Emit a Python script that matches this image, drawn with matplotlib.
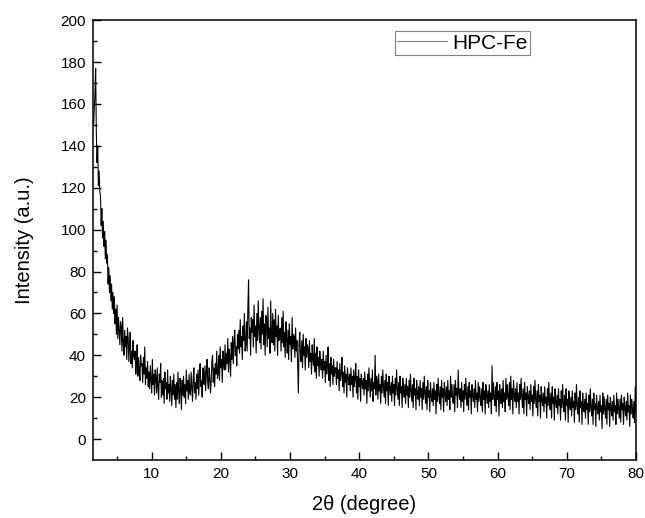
import numpy as np
import matplotlib
matplotlib.use("Agg")
import matplotlib.pyplot as plt

plt.rcParams["font.family"] = ["Liberation Sans", "DejaVu Sans"]

intensity = [
    150, 158, 165, 177, 146, 132, 140, 121, 128, 118,
    116, 102, 110, 96, 104, 92, 99, 86, 95, 84,
    88, 74, 82, 70, 78, 66, 74, 62, 70, 60,
    68, 55, 62, 50, 64, 48, 58, 52, 45, 56,
    54, 42, 58, 46, 40, 52, 44, 49, 38, 53,
    48, 37, 45, 51, 36, 42, 34, 47, 40, 38,
    42, 31, 36, 45, 30, 39, 33, 28, 40, 35,
    36, 27, 39, 31, 44, 26, 34, 29, 37, 25,
    32, 24, 35, 28, 22, 38, 26, 31, 21, 33,
    30, 22, 34, 25, 19, 31, 27, 36, 20, 28,
    21, 29, 17, 32, 24, 27, 19, 33, 22, 26,
    18, 30, 24, 16, 28, 21, 31, 19, 26, 15,
    27, 19, 32, 22, 17, 29, 24, 14, 28, 21,
    30, 20, 26, 17, 33, 23, 28, 19, 31, 22,
    21, 32, 25, 18, 29, 34, 22, 27, 19, 31,
    24, 33, 21, 30, 36, 25, 28, 20, 34, 27,
    26, 35, 23, 32, 38, 27, 24, 34, 29, 22,
    28, 37, 40, 27, 34, 25, 36, 31, 42, 29,
    31, 40, 28, 44, 34, 38, 27, 42, 36, 33,
    45, 33, 41, 36, 48, 32, 43, 39, 30, 46,
    38, 49, 36, 46, 52, 40, 44, 35, 50, 43,
    52, 41, 57, 44, 49, 38, 54, 47, 60, 42,
    45, 56, 42, 62, 76, 48, 53, 40, 58, 51,
    57, 44, 64, 49, 54, 41, 60, 47, 66, 52,
    46, 58, 43, 61, 50, 67, 45, 55, 40, 59,
    56, 44, 63, 48, 53, 41, 66, 50, 46, 60,
    45, 57, 42, 62, 49, 54, 40, 59, 47, 52,
    53, 42, 58, 46, 61, 44, 51, 39, 56, 47,
    41, 52, 38, 55, 45, 49, 37, 58, 43, 50,
    49, 39, 53, 42, 47, 36, 22, 45, 51, 40,
    37, 47, 34, 50, 40, 44, 33, 48, 39, 45,
    43, 34, 47, 37, 41, 31, 45, 38, 35, 48,
    32, 41, 29, 44, 35, 39, 30, 42, 36, 33,
    38, 29, 42, 33, 37, 27, 40, 31, 35, 44,
    28, 36, 25, 39, 31, 35, 26, 38, 30, 34,
    34, 26, 37, 29, 33, 23, 36, 28, 31, 39,
    25, 32, 22, 35, 27, 31, 20, 34, 29, 26,
    31, 23, 34, 26, 30, 20, 33, 25, 29, 36,
    22, 30, 19, 33, 25, 29, 18, 31, 27, 24,
    29, 21, 32, 24, 28, 17, 31, 23, 34, 26,
    20, 29, 23, 33, 18, 27, 24, 40, 21, 30,
    28, 19, 31, 23, 26, 17, 30, 22, 33, 25,
    20, 28, 17, 31, 23, 27, 16, 30, 24, 21,
    27, 18, 30, 22, 26, 16, 29, 21, 33, 24,
    19, 27, 16, 30, 22, 25, 15, 29, 23, 20,
    26, 17, 29, 21, 25, 15, 28, 20, 31, 23,
    18, 26, 15, 29, 21, 24, 14, 28, 22, 19,
    25, 16, 28, 20, 24, 14, 27, 19, 30, 22,
    17, 25, 14, 28, 20, 23, 13, 27, 21, 18,
    24, 16, 27, 19, 23, 12, 26, 18, 29, 21,
    17, 25, 14, 28, 20, 24, 13, 27, 22, 18,
    25, 16, 28, 19, 23, 14, 30, 20, 26, 18,
    17, 26, 13, 28, 21, 24, 15, 33, 22, 19,
    24, 15, 27, 18, 23, 13, 26, 19, 29, 21,
    16, 25, 14, 27, 20, 23, 12, 26, 21, 18,
    24, 15, 28, 19, 22, 13, 27, 18, 25, 20,
    16, 24, 13, 27, 19, 23, 12, 26, 21, 17,
    23, 15, 26, 18, 22, 12, 35, 19, 27, 20,
    16, 25, 13, 27, 19, 23, 11, 26, 21, 17,
    24, 15, 28, 18, 22, 13, 29, 19, 26, 20,
    16, 27, 14, 30, 19, 24, 12, 28, 21, 18,
    24, 15, 27, 18, 22, 12, 26, 19, 29, 20,
    15, 24, 12, 27, 19, 22, 11, 25, 20, 17,
    23, 14, 26, 18, 21, 11, 25, 17, 28, 19,
    15, 23, 11, 26, 18, 21, 10, 25, 19, 16,
    22, 13, 25, 17, 20, 10, 24, 16, 27, 18,
    14, 22, 10, 25, 17, 20, 9, 24, 18, 15,
    21, 12, 24, 16, 19, 9, 23, 15, 26, 17,
    13, 21, 9, 24, 16, 19, 8, 23, 17, 14,
    20, 11, 23, 15, 18, 8, 22, 14, 26, 16,
    12, 20, 8, 23, 15, 18, 7, 22, 16, 13,
    19, 10, 22, 14, 17, 7, 21, 13, 24, 15,
    11, 19, 7, 22, 14, 17, 6, 21, 15, 12,
    18, 9, 21, 13, 16, 5, 22, 12, 20, 14,
    10, 19, 7, 21, 14, 17, 6, 20, 15, 11,
    18, 9, 21, 13, 16, 7, 22, 12, 19, 14,
    10, 19, 8, 21, 14, 17, 7, 20, 15, 11,
    18, 9, 22, 13, 16, 6, 21, 12, 19, 14,
    10, 18, 8, 25, 13,
]
two_theta = np.linspace(1.6, 80.0, len(intensity))

fig = plt.figure(figsize=(6.45, 5.18), dpi=100)
ax = fig.add_axes([0.144, 0.112, 0.842, 0.849])

ax.plot(two_theta, intensity, color="black", lw=0.8, label="HPC-Fe")

ax.set_xlim(1.5, 80)
ax.set_ylim(-10, 200)
ax.set_xticks([10, 20, 30, 40, 50, 60, 70, 80])
ax.set_xticks([5, 15, 25, 35, 45, 55, 65, 75], minor=True)
ax.set_yticks(range(0, 201, 20))
ax.set_yticks(range(10, 200, 20), minor=True)
ax.tick_params(which="both", direction="in", width=1, labelsize=11, top=False, right=False)
ax.tick_params(which="major", length=6, pad=5)
ax.tick_params(which="minor", length=3)
for s in ax.spines.values():
    s.set_linewidth(1.1)

ax.set_xlabel("2θ (degree)", fontsize=14.5, labelpad=10)
ax.set_ylabel("Intensity (a.u.)", fontsize=14.5, labelpad=19)

leg = ax.legend(loc="upper left", bbox_to_anchor=(0.556, 0.975), fontsize=15,
                fancybox=False, framealpha=1, edgecolor="gray",
                handlelength=2.4, borderpad=0.12, handletextpad=0.25, borderaxespad=0)
leg.get_frame().set_linewidth(0.8)
leg.get_lines()[0].set_color("gray")
leg.get_lines()[0].set_linewidth(0.8)

fig.savefig("out.png", dpi=100)
